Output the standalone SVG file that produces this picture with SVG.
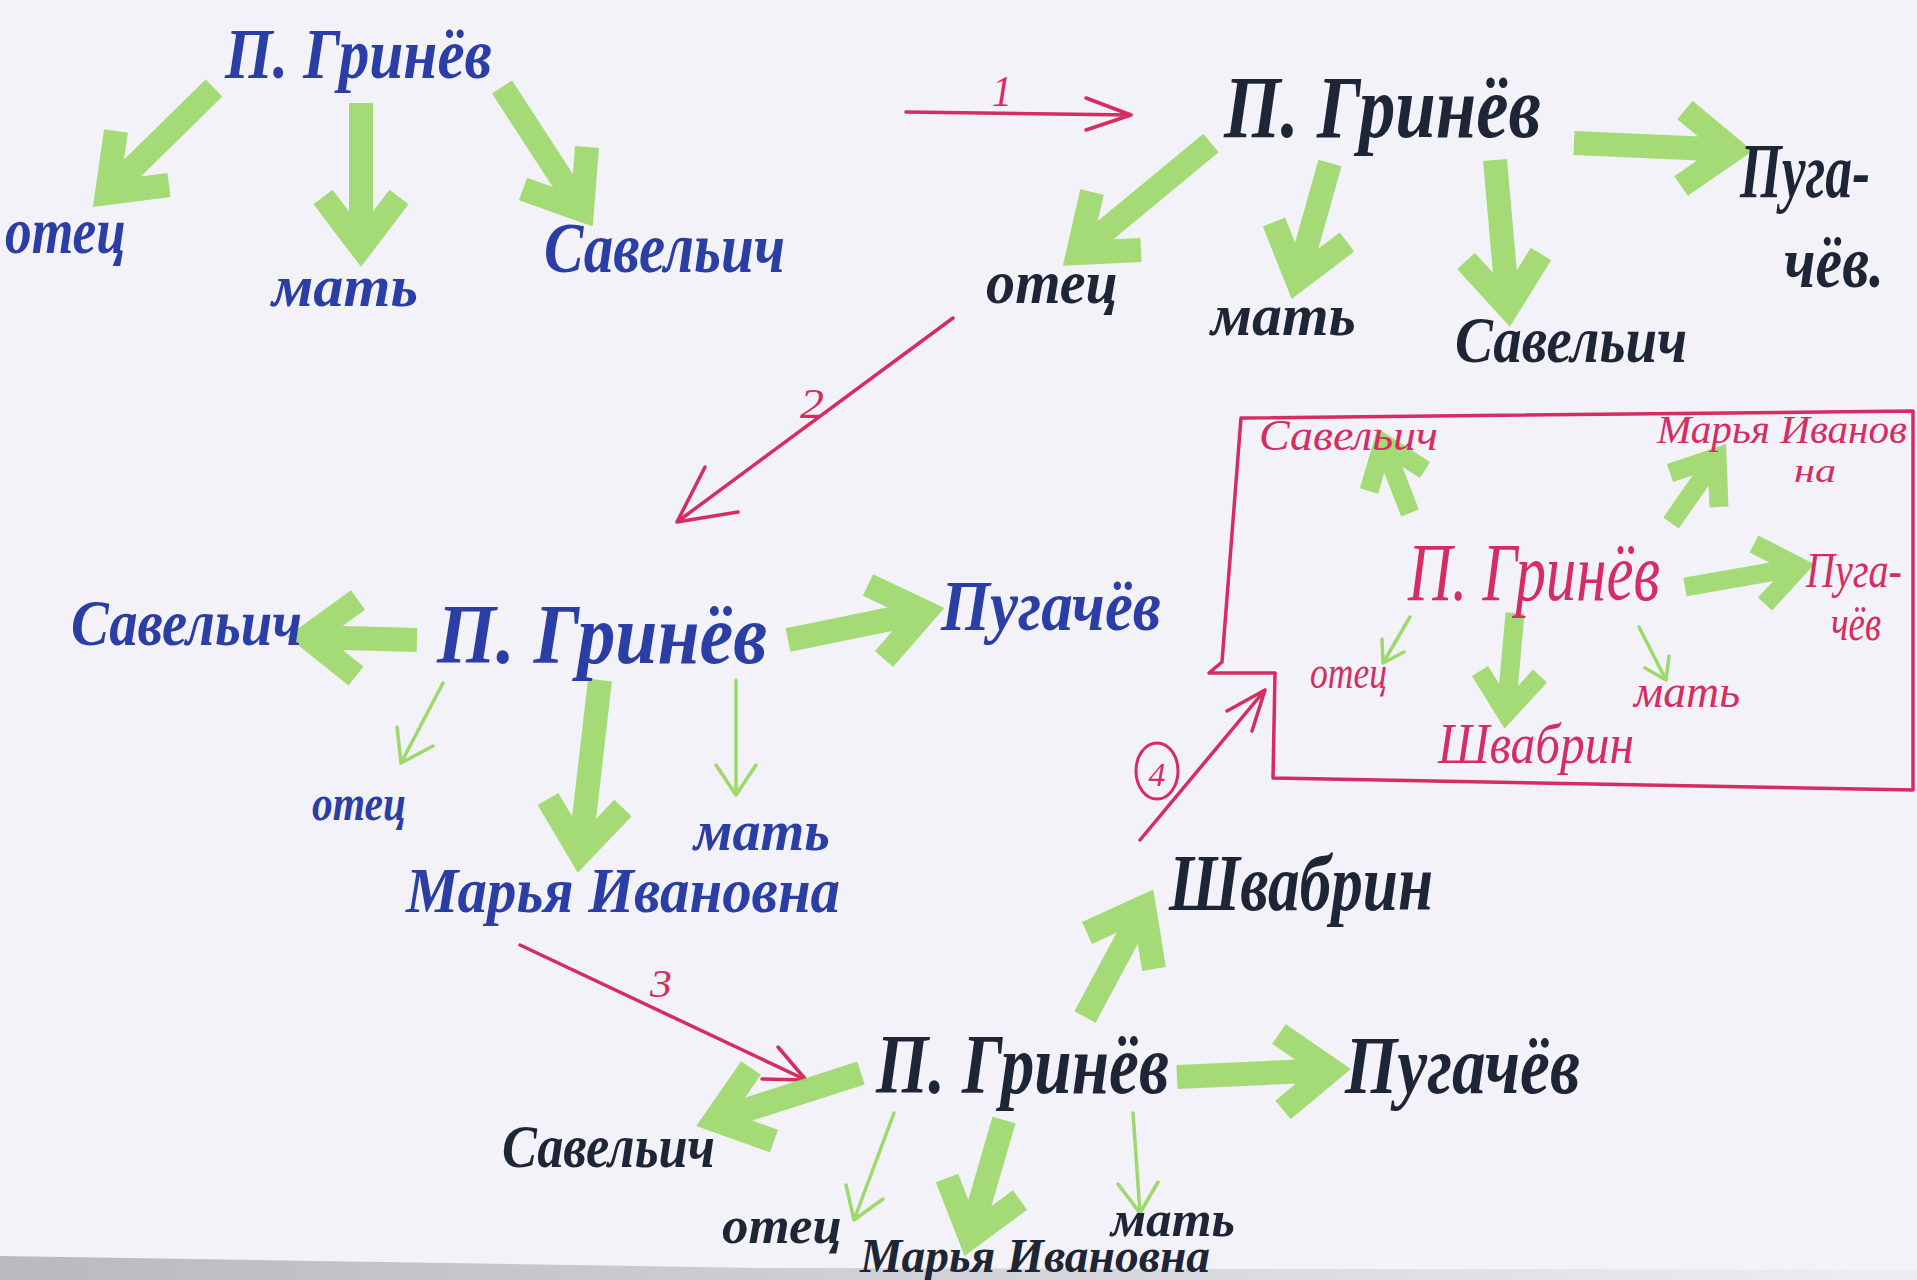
<svg xmlns="http://www.w3.org/2000/svg" width="1917" height="1280" viewBox="0 0 1917 1280">
<style>
.t{font-family:"Liberation Serif","DejaVu Serif",serif;font-style:italic}
.b{fill:#2b3ea6;font-weight:bold}
.k{fill:#1d2536;font-weight:bold}
.r{fill:#d62c62}
.gt{fill:none;stroke:#9ed96b;stroke-width:24;stroke-linejoin:miter;opacity:.92}
.gm{fill:none;stroke:#9ed96b;stroke-width:19;stroke-linejoin:miter;opacity:.92}
.gn{fill:none;stroke:#9ed96b;stroke-width:3.5;stroke-linecap:round;stroke-linejoin:round}
.ra{fill:none;stroke:#d62c62;stroke-width:3.5;stroke-linecap:round;stroke-linejoin:round}
</style>
<defs>
<linearGradient id="edge" x1="0" y1="0" x2="1" y2="0">
<stop offset="0" stop-color="#b9b9c0"/>
<stop offset="0.45" stop-color="#cfcfd6"/>
<stop offset="1" stop-color="#eeedf3"/>
</linearGradient>
</defs>
<rect width="1917" height="1280" fill="#f3f2f8"/>
<polygon points="0,1256 760,1268 1917,1270 1917,1280 0,1280" fill="url(#edge)"/>

<g id="connectors">
<path class="gt" d="M214,88 L107,193 M116,131 L107,193 L169,185"/>
<path class="gt" d="M361,103 L361,247 M323,197 L361,247 L399,197"/>
<path class="gt" d="M502,87 L582,210 M523,189 L582,210 L587,147"/>
<path class="ra" d="M906,112 L1131,115 M1086,98 L1131,115 L1086,130"/>
<path class="gt" d="M1211,143 L1078,253 M1092,192 L1078,253 L1141,250"/>
<path class="gt" d="M1330,163 L1297,280 M1274,222 L1297,280 L1347,242"/>
<path class="gt" d="M1495,160 L1508,307 M1466,261 L1508,307 L1541,254"/>
<path class="gt" d="M1574,143 L1733,150 M1681,186 L1733,150 L1685,110"/>
<path class="ra" d="M953,318 L677,522 M705,467 L677,522 L738,512"/>
<path class="gt" d="M417,640 L307,637 M358,600 L307,637 L356,676"/>
<path class="gt" d="M788,640 L925,612 M868,585 L925,612 L884,659"/>
<path class="gt" d="M600,680 L580,853 M548,799 L580,853 L623,808"/>
<path class="gn" d="M443,683 L401,763 M397,727 L401,763 L433,746"/>
<path class="gn" d="M736,680 L736,795 M716,765 L736,795 L756,765"/>
<path class="ra" d="M520,945 L806,1080 M762,1079 L806,1080 L778,1047"/>
<path class="ra" d="M1140,840 L1265,690 M1252,731 L1265,690 L1227,711"/>
<path class="gt" d="M1085,1017 L1144,907 M1154,969 L1144,907 L1087,933"/>
<path class="gt" d="M861,1073 L715,1120 M751,1068 L715,1120 L774,1141"/>
<path class="gt" d="M1177,1077 L1331,1070 M1283,1110 L1331,1070 L1279,1034"/>
<path class="gt" d="M1004,1120 L970,1237 M947,1178 L970,1237 L1020,1200"/>
<path class="gn" d="M894,1113 L854,1220 M846,1185 L854,1220 L883,1199"/>
<path class="gn" d="M1133,1113 L1140,1213 M1118,1184 L1140,1213 L1158,1182"/>
<path class="gm" d="M1410,513 L1383,443 M1425,470 L1383,443 L1369,491"/>
<path class="gm" d="M1671,523 L1717,457 M1719,507 L1717,457 L1670,473"/>
<path class="gm" d="M1685,587 L1799,567 M1765,604 L1799,567 L1754,544"/>
<path class="gm" d="M1515,613 L1506,713 M1480,671 L1506,713 L1540,676"/>
<path class="gn" d="M1410,617 L1383,663 M1382,639 L1383,663 L1404,652"/>
<path class="gn" d="M1639,627 L1666,680 M1645,668 L1666,680 L1669,656"/>
</g>

<g id="labels">
<text class="t r" x="992" y="106" font-size="44" textLength="20" lengthAdjust="spacingAndGlyphs">1</text>
<text class="t r" x="800" y="418" font-size="42" textLength="24" lengthAdjust="spacingAndGlyphs">2</text>
<text class="t r" x="650" y="997" font-size="40" textLength="22" lengthAdjust="spacingAndGlyphs">3</text>
<g id="label4">
<ellipse cx="1157" cy="771" rx="21" ry="28" fill="none" stroke="#d62c62" stroke-width="3"/>
<text class="t r" x="1157" y="786" font-size="34" text-anchor="middle">4</text>
</g>
</g>

<g id="box">
<polygon points="1241,418 1913,411 1913,790 1273,778 1275,673 1209,673 1222,662 1241,418" fill="none" stroke="#d62c62" stroke-width="3.5" stroke-linejoin="round"/>
</g>

<g id="clusterA">
<g id="a-grinev"><text class="t b" x="225" y="78" font-size="72" textLength="267" lengthAdjust="spacingAndGlyphs">П. Гринёв</text></g>
<g id="a-otec"><text class="t b" x="5" y="253" font-size="66" textLength="121" lengthAdjust="spacingAndGlyphs">отец</text></g>
<g id="a-mat"><text class="t b" x="272" y="306" font-size="60" textLength="146" lengthAdjust="spacingAndGlyphs">мать</text></g>
<g id="a-savelich"><text class="t b" x="544" y="272" font-size="72" textLength="241" lengthAdjust="spacingAndGlyphs">Савельич</text></g>
</g>

<g id="clusterB">
<g id="b-grinev"><text class="t k" x="1224" y="137" font-size="88" textLength="317" lengthAdjust="spacingAndGlyphs">П. Гринёв</text></g>
<g id="b-pugachev"><text class="t k" x="1740" y="197" font-size="78" textLength="130" lengthAdjust="spacingAndGlyphs">Пуга-</text>
<text class="t k" x="1784" y="287" font-size="74" textLength="100" lengthAdjust="spacingAndGlyphs">чёв.</text></g>
<g id="b-otec"><text class="t k" x="986" y="303" font-size="62" textLength="132" lengthAdjust="spacingAndGlyphs">отец</text></g>
<g id="b-mat"><text class="t k" x="1211" y="335" font-size="60" textLength="145" lengthAdjust="spacingAndGlyphs">мать</text></g>
<g id="b-savelich"><text class="t k" x="1455" y="362" font-size="66" textLength="232" lengthAdjust="spacingAndGlyphs">Савельич</text></g>
</g>

<g id="clusterC">
<g id="c-savelich"><text class="t b" x="71" y="645" font-size="66" textLength="231" lengthAdjust="spacingAndGlyphs">Савельич</text></g>
<g id="c-grinev"><text class="t b" x="437" y="663" font-size="85" textLength="330" lengthAdjust="spacingAndGlyphs">П. Гринёв</text></g>
<g id="c-pugachev"><text class="t b" x="941" y="630" font-size="72" textLength="220" lengthAdjust="spacingAndGlyphs">Пугачёв</text></g>
<g id="c-otec"><text class="t b" x="312" y="820" font-size="50" textLength="94" lengthAdjust="spacingAndGlyphs">отец</text></g>
<g id="c-mat"><text class="t b" x="694" y="850" font-size="56" textLength="136" lengthAdjust="spacingAndGlyphs">мать</text></g>
<g id="c-maria"><text class="t b" x="406" y="912" font-size="64" textLength="434" lengthAdjust="spacingAndGlyphs">Марья Ивановна</text></g>
</g>

<g id="clusterD">
<g id="d-shvabrin"><text class="t k" x="1169" y="910" font-size="80" textLength="264" lengthAdjust="spacingAndGlyphs">Швабрин</text></g>
<g id="d-grinev"><text class="t k" x="876" y="1093" font-size="85" textLength="293" lengthAdjust="spacingAndGlyphs">П. Гринёв</text></g>
<g id="d-savelich"><text class="t k" x="502" y="1167" font-size="62" textLength="213" lengthAdjust="spacingAndGlyphs">Савельич</text></g>
<g id="d-pugachev"><text class="t k" x="1345" y="1093" font-size="82" textLength="235" lengthAdjust="spacingAndGlyphs">Пугачёв</text></g>
<g id="d-otec"><text class="t k" x="722" y="1243" font-size="52" textLength="120" lengthAdjust="spacingAndGlyphs">отец</text></g>
<g id="d-maria"><text class="t k" x="860" y="1272" font-size="48" textLength="350" lengthAdjust="spacingAndGlyphs">Марья Ивановна</text></g>
<g id="d-mat"><text class="t k" x="1111" y="1236" font-size="50" textLength="124" lengthAdjust="spacingAndGlyphs">мать</text></g>
</g>

<g id="clusterE">
<g id="e-savelich"><text class="t r" x="1259" y="450" font-size="44" textLength="179" lengthAdjust="spacingAndGlyphs">Савельич</text></g>
<g id="e-maria"><text class="t r" x="1657" y="443" font-size="40" textLength="250" lengthAdjust="spacingAndGlyphs">Марья Иванов</text>
<text class="t r" x="1794" y="482" font-size="34" textLength="42" lengthAdjust="spacingAndGlyphs">на</text></g>
<g id="e-grinev"><text class="t r" x="1408" y="600" font-size="82" textLength="252" lengthAdjust="spacingAndGlyphs">П. Гринёв</text></g>
<g id="e-pugachev"><text class="t r" x="1806" y="587" font-size="50" textLength="96" lengthAdjust="spacingAndGlyphs">Пуга-</text>
<text class="t r" x="1831" y="640" font-size="50" textLength="50" lengthAdjust="spacingAndGlyphs">чёв</text></g>
<g id="e-otec"><text class="t r" x="1310" y="688" font-size="46" textLength="77" lengthAdjust="spacingAndGlyphs">отец</text></g>
<g id="e-mat"><text class="t r" x="1634" y="707" font-size="46" textLength="106" lengthAdjust="spacingAndGlyphs">мать</text></g>
<g id="e-shvabrin"><text class="t r" x="1438" y="763" font-size="56" textLength="196" lengthAdjust="spacingAndGlyphs">Швабрин</text></g>
</g>
</svg>
